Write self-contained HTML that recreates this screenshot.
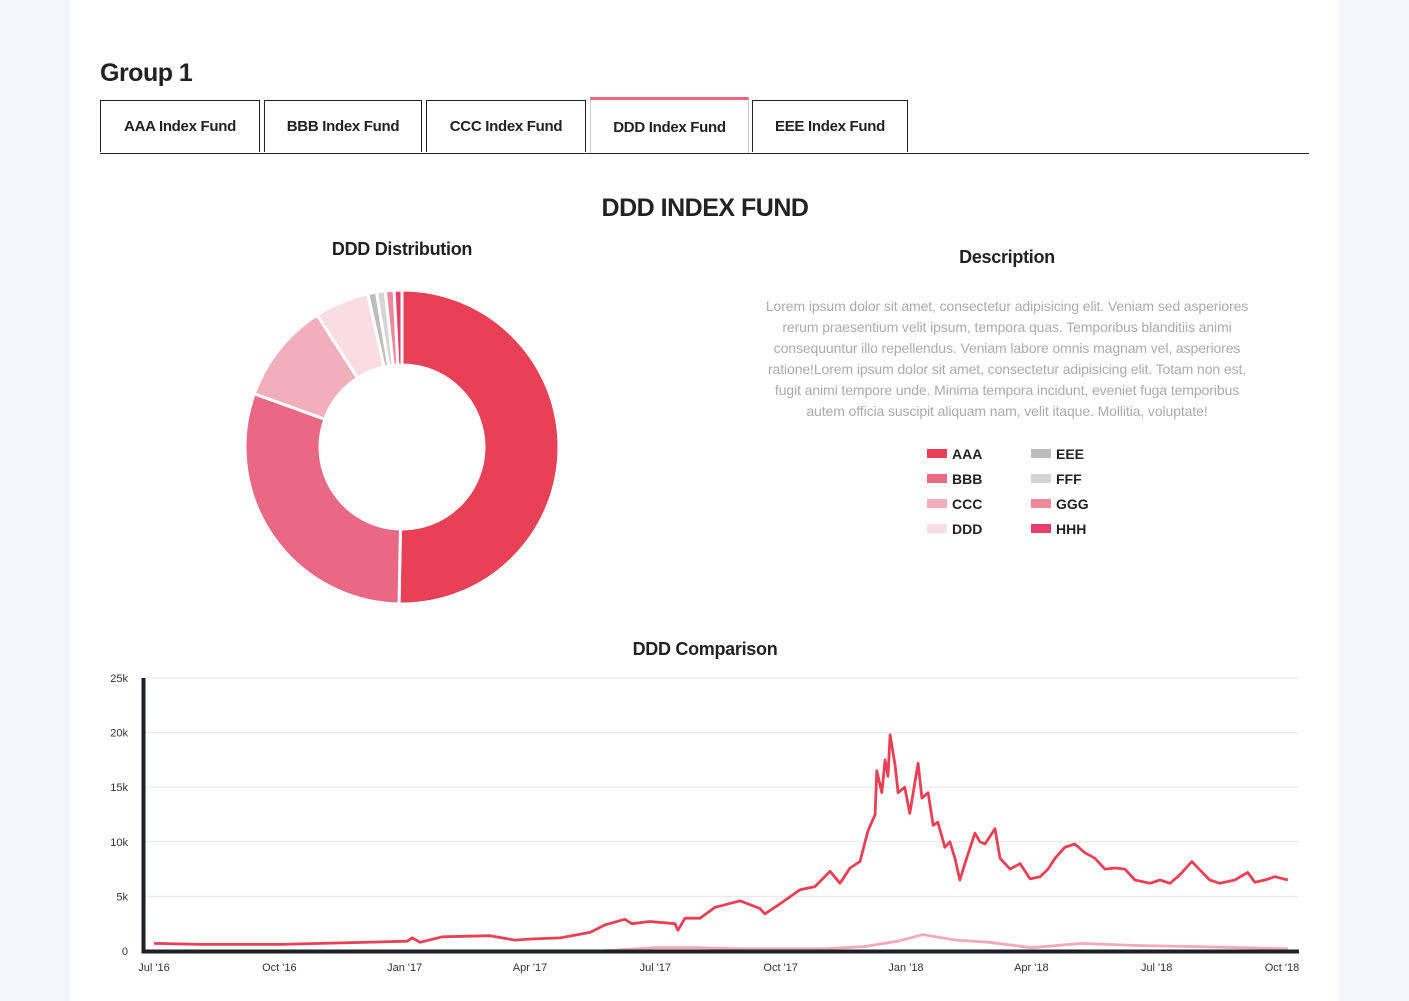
<!DOCTYPE html>
<html><head><meta charset="utf-8">
<style>
body{margin:0;background:#f5f6f8;font-family:"Liberation Sans",sans-serif;}
#card{position:absolute;left:70px;top:0;width:1269px;height:1001px;background:#fff;}
.abs{position:absolute;}
.tab{position:absolute;top:100px;height:52px;border:1px solid #222;border-bottom:none;box-sizing:border-box;font-size:15px;font-weight:bold;color:#222;text-align:center;line-height:52px;background:#fff;letter-spacing:-0.3px;}
.tab.active{border-top:3px solid #e8677f;height:56px;top:97px;line-height:56px;border-left:1px solid #ccc;border-right:1px solid #ccc;}
.ctr{position:absolute;text-align:center;color:#222;font-weight:bold;}
#desc{position:absolute;left:740px;width:534px;top:296px;text-align:center;color:#aaa;font-size:14px;line-height:21px;letter-spacing:-0.1px;}
.lg{position:absolute;font-size:14px;font-weight:bold;color:#222;}
.sw{position:absolute;width:20px;height:9px;}
</style></head><body>
<div id="card"></div>
<div class="abs" style="left:100px;top:59px;font-size:25px;color:#222;font-weight:bold;letter-spacing:-0.5px;">Group 1</div>
<div class="abs" style="left:100px;top:153px;width:1209px;height:1px;background:#222;"></div>
<div class="tab" style="left:100px;width:160px;">AAA Index Fund</div>
<div class="tab" style="left:264px;width:158px;">BBB Index Fund</div>
<div class="tab" style="left:426px;width:160px;">CCC Index Fund</div>
<div class="tab active" style="left:590px;width:159px;">DDD Index Fund</div>
<div class="tab" style="left:752px;width:156px;">EEE Index Fund</div>

<div class="ctr" style="left:405px;width:600px;top:194px;font-size:25px;letter-spacing:-0.5px;">DDD INDEX FUND</div>
<div class="ctr" style="left:252px;width:300px;top:239px;font-size:18px;letter-spacing:-0.3px;">DDD Distribution</div>
<div class="ctr" style="left:857px;width:300px;top:247px;font-size:18px;letter-spacing:-0.3px;">Description</div>
<div id="desc">Lorem ipsum dolor sit amet, consectetur adipisicing elit. Veniam sed asperiores<br>rerum praesentium velit ipsum, tempora quas. Temporibus blanditiis animi<br>consequuntur illo repellendus. Veniam labore omnis magnam vel, asperiores<br>ratione!Lorem ipsum dolor sit amet, consectetur adipisicing elit. Totam non est,<br>fugit animi tempore unde. Minima tempora incidunt, eveniet fuga temporibus<br>autem officia suscipit aliquam nam, velit itaque. Mollitia, voluptate!</div>
<div id="legend"></div>
<div class="ctr" style="left:555px;width:300px;top:639px;font-size:18px;letter-spacing:-0.3px;">DDD Comparison</div>

<svg id="svg" class="abs" style="left:0;top:0" width="1409" height="1001"></svg>

<script>
// Donut data
const sliceLabels = ["AAA","BBB","CCC","DDD","EEE","FFF","GGG","HHH"];
const sliceValues = [50.3,30.2,10.4,5.6,0.9,0.9,0.9,0.8];
const sliceColors = ["#e84054","#e96884","#f0afbb","#f8dde3","#bdbdbd","#d5d5d5","#ec8a9a","#e83e6c"];

// Line chart data: month offsets since Jul 2016, values in thousands
const monthsA = [0,1.1,3.04,6.06,6.18,6.37,6.9,8.04,8.64,9.02,9.72,10.44,10.8,11.27,11.44,11.87,12.47,12.54,12.71,13.07,13.43,14.03,14.5,14.62,14.98,15.46,15.82,16.18,16.42,16.66,16.9,17.09,17.26,17.3,17.42,17.5,17.57,17.62,17.74,17.81,17.97,18.09,18.29,18.38,18.53,18.65,18.76,18.93,19.05,19.17,19.29,19.41,19.65,19.77,19.89,20.13,20.25,20.49,20.73,20.97,21.21,21.4,21.57,21.8,22.04,22.28,22.52,22.76,23.0,23.24,23.48,23.84,24.08,24.32,24.56,24.84,25.04,25.27,25.51,25.87,26.18,26.35,26.59,26.83,27.14];
const valuesA = [0.7,0.6,0.6,0.9,1.2,0.8,1.3,1.4,1.0,1.1,1.2,1.7,2.4,2.9,2.5,2.7,2.5,1.9,3.0,3.0,4.0,4.6,3.9,3.4,4.3,5.6,5.9,7.3,6.2,7.6,8.2,11.0,12.5,16.5,14.5,17.5,16.0,19.8,17.0,14.5,15.0,12.6,17.2,14.0,14.5,11.5,11.8,9.5,10.0,8.5,6.5,8.0,10.8,10.0,9.8,11.2,8.5,7.5,8.0,6.6,6.8,7.5,8.5,9.5,9.8,9.0,8.5,7.5,7.6,7.5,6.5,6.2,6.5,6.2,7.0,8.2,7.4,6.5,6.2,6.5,7.2,6.3,6.5,6.8,6.5];
const monthsB = [0,10.7,12,13,14,15,16,17,17.8,18.4,19.2,20,21,22.2,23.5,25,26,27.14];
const valuesB = [0,0,0.3,0.3,0.2,0.2,0.2,0.4,0.9,1.5,1.0,0.8,0.3,0.7,0.5,0.4,0.3,0.2];
const yTicks = [0,5,10,15,20,25];
const yTickLabels = ["0","5k","10k","15k","20k","25k"];
const xTickMonths = [0,3,6,9,12,15,18,21,24,27];
const xTickLabels = ["Jul '16","Oct '16","Jan '17","Apr '17","Jul '17","Oct '17","Jan '18","Apr '18","Jul '18","Oct '18"];

const NS="http://www.w3.org/2000/svg";
const svg=document.getElementById('svg');
function mk(tag,attrs){const e=document.createElementNS(NS,tag);for(const k in attrs)e.setAttribute(k,attrs[k]);svg.appendChild(e);return e;}

// donut
const cx=402,cy=447,R=157,r=82;
const total=sliceValues.reduce((a,b)=>a+b,0);
let a0=0;
sliceValues.forEach((v,i)=>{
  const a1=a0+v/total*2*Math.PI;
  const p=(ang,rad)=>[cx+rad*Math.sin(ang),cy-rad*Math.cos(ang)];
  const [x1,y1]=p(a0,R),[x2,y2]=p(a1,R),[x3,y3]=p(a1,r),[x4,y4]=p(a0,r);
  const lg=(a1-a0)>Math.PI?1:0;
  const el=mk('path',{d:`M${x1},${y1}A${R},${R} 0 ${lg} 1 ${x2},${y2}L${x3},${y3}A${r},${r} 0 ${lg} 0 ${x4},${y4}Z`,fill:sliceColors[i],stroke:'#fff','stroke-width':3});
  
  
  a0=a1;
});

// legend
const legend=document.getElementById('legend');
sliceLabels.forEach((l,i)=>{
  const col=Math.floor(i/4),row=i%4;
  const sw=document.createElement('div');sw.className='sw';
  sw.style.left=(927+col*104)+'px';sw.style.top=(449+row*25)+'px';sw.style.background=sliceColors[i];
  
  
  legend.appendChild(sw);
  const t=document.createElement('div');t.className='lg';t.textContent=l;
  t.style.left=(952+col*104)+'px';t.style.top=(446+row*25)+'px';
  
  
  legend.appendChild(t);
});

// line chart axes
const X0=154,X1=1282,Y0=951,Y1=678;
const xs=m=>X0+(X1-X0)*m/27;
const ys=v=>Y0-(Y0-Y1)*v/25;
yTicks.forEach((t,i)=>{
  if(t>0){const g=mk('line',{x1:145,x2:1298,y1:ys(t),y2:ys(t),stroke:'#e6e6e6','stroke-width':1});
  }
  const tx=mk('text',{x:128,y:ys(t)+4,'text-anchor':'end','font-size':11,fill:'#333','font-family':'Liberation Sans, sans-serif'});
  tx.textContent=yTickLabels[i];
  
});
xTickMonths.forEach((m,i)=>{
  const tx=mk('text',{x:xs(m),y:971,'text-anchor':'middle','font-size':11,fill:'#333','font-family':'Liberation Sans, sans-serif'});
  tx.textContent=xTickLabels[i];
  
});
function series(ms,vs,color,name){
  const d=ms.map((m,i)=>(i?'L':'M')+xs(m).toFixed(1)+','+ys(vs[i]).toFixed(1)).join('');
  const p=mk('path',{d,fill:'none',stroke:color,'stroke-width':2.8,'stroke-linejoin':'round'});
  
}
series(monthsB,valuesB,'#f2aab6','series-line-secondary');
series(monthsA,valuesA,'#e84054','series-line-ddd');
const ya=mk('line',{x1:143.5,x2:143.5,y1:678,y2:953,stroke:'#1e2028','stroke-width':4});

const xa=mk('line',{x1:141.5,x2:1299,y1:951.5,y2:951.5,stroke:'#1e2028','stroke-width':4});

</script>
</body></html>
